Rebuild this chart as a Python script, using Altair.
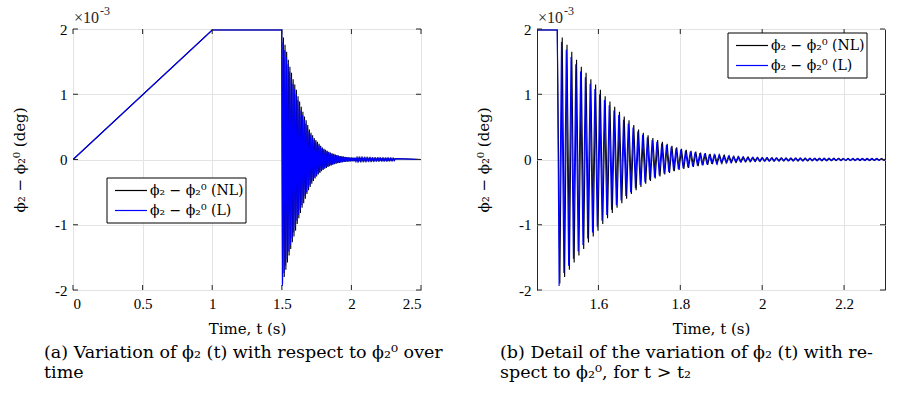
import altair as alt
import pandas as pd

# Values in units of 1e-3 deg.
# Quasi-static ramp up to t1, hold until t2.
ramp_t = [0.0, 1.0, 1.4995]
ramp_v = [0.0, 1.985, 1.985]

# Free vibration after t2: one extreme per half cycle.
t_first_trough = 1.504   # s
cycle = 0.01165          # s
nl_lag = 0.0018          # s, NL response lags the linear one slightly

nl_troughs = [
    -1.90, -1.80, -1.69, -1.58, -1.47, -1.37, -1.27, -1.18, -1.09, -0.99,
    -0.90, -0.82, -0.74, -0.67, -0.60, -0.53, -0.47, -0.42, -0.37, -0.33,
    -0.29, -0.26, -0.23, -0.205, -0.18, -0.16, -0.143, -0.128, -0.115, -0.102,
    -0.091, -0.081, -0.072, -0.064, -0.057, -0.051, -0.046, -0.041, -0.037, -0.034,
    -0.031, -0.029, -0.027, -0.026, -0.025, -0.024, -0.023, -0.022, -0.022, -0.021,
    -0.021, -0.020, -0.020, -0.019, -0.019, -0.018, -0.018, -0.018, -0.017, -0.017,
    -0.016, -0.016, -0.016, -0.015, -0.015, -0.015, -0.015, -0.014, -0.014, -0.014,
]
nl_peaks = [
    1.87, 1.76, 1.65, 1.53, 1.42, 1.33, 1.23, 1.15, 1.07, 0.97,
    0.89, 0.81, 0.73, 0.66, 0.60, 0.53, 0.46, 0.41, 0.37, 0.33,
    0.30, 0.27, 0.24, 0.21, 0.185, 0.165, 0.148, 0.133, 0.120, 0.107,
    0.096, 0.086, 0.077, 0.068, 0.060, 0.054, 0.048, 0.043, 0.039, 0.035,
    0.032, 0.030, 0.028, 0.027, 0.026, 0.025, 0.024, 0.023, 0.022, 0.022,
    0.021, 0.021, 0.020, 0.020, 0.019, 0.019, 0.018, 0.018, 0.018, 0.017,
    0.017, 0.016, 0.016, 0.016, 0.015, 0.015, 0.015, 0.015, 0.014, 0.014,
]
l_troughs = [
    -1.94, -1.74, -1.63, -1.52, -1.41, -1.31, -1.21, -1.12, -1.03, -0.94,
    -0.85, -0.77, -0.70, -0.63, -0.56, -0.50, -0.44, -0.39, -0.35, -0.31,
    -0.275, -0.245, -0.215, -0.19, -0.17, -0.15, -0.134, -0.12, -0.107, -0.095,
    -0.085, -0.076, -0.068, -0.060, -0.054, -0.048, -0.043, -0.039, -0.035, -0.032,
    -0.030, -0.028, -0.026, -0.025, -0.024, -0.023, -0.022, -0.022, -0.021, -0.021,
    -0.020, -0.020, -0.019, -0.019, -0.018, -0.018, -0.018, -0.017, -0.017, -0.016,
    -0.016, -0.016, -0.015, -0.015, -0.015, -0.015, -0.014, -0.014, -0.014, -0.014,
]
l_peaks = [
    1.80, 1.68, 1.57, 1.46, 1.35, 1.26, 1.16, 1.08, 1.00, 0.91,
    0.83, 0.75, 0.68, 0.61, 0.55, 0.49, 0.43, 0.38, 0.34, 0.30,
    0.27, 0.245, 0.22, 0.195, 0.172, 0.153, 0.137, 0.123, 0.111, 0.099,
    0.089, 0.080, 0.071, 0.063, 0.056, 0.050, 0.045, 0.040, 0.036, 0.033,
    0.031, 0.029, 0.027, 0.026, 0.025, 0.024, 0.023, 0.022, 0.022, 0.021,
    0.021, 0.020, 0.020, 0.019, 0.019, 0.018, 0.018, 0.018, 0.017, 0.017,
    0.016, 0.016, 0.016, 0.015, 0.015, 0.015, 0.015, 0.014, 0.014, 0.014,
]
t_end, v_end = 2.5, 0.0

NL = "ϕ₂ − ϕ₂⁰ (NL)"
LIN = "ϕ₂ − ϕ₂⁰ (L)"
Y_TITLE = "ϕ₂ − ϕ₂⁰ (deg)"
X_TITLE = "Time, t (s)"

ticks_y = [-2, -1, 0, 1, 2]
ticks_a = [0, 0.5, 1, 1.5, 2, 2.5]
ticks_b = [1.6, 1.8, 2.0, 2.2]

TICK_FONT = "Liberation Serif"
TEXT_FONT = "DejaVu Serif"
W, H = 348, 261
TICK = 5
BLACK, BLUE = "#000000", "#0000ff"


def series_rows(name, troughs, peaks, lag):
    rows = [(name, t, v) for t, v in zip(ramp_t, ramp_v)]
    for k, (lo, hi) in enumerate(zip(troughs, peaks)):
        rows.append((name, t_first_trough + lag + k * cycle, lo))
        rows.append((name, t_first_trough + lag + (k + 0.5) * cycle, hi))
    rows.append((name, t_end, v_end))
    return rows


df = pd.DataFrame(
    series_rows(NL, nl_troughs, nl_peaks, nl_lag)
    + series_rows(LIN, l_troughs, l_peaks, 0.0),
    columns=["series", "t", "v"],
)


def legend_box(x0, y0):
    """Boxed legend with its top-left corner at (x0, y0) in plot pixels."""
    one = alt.Chart(alt.Data(values=[{}]))
    box = one.mark_rect(fill="#ffffff", stroke="#000000", strokeWidth=1).encode(
        x=alt.value(x0), x2=alt.value(x0 + 139), y=alt.value(y0), y2=alt.value(y0 + 45)
    )
    parts = [box]
    for i, (name, col) in enumerate([(NL, BLACK), (LIN, BLUE)]):
        yy = y0 + 12.5 + 20 * i
        parts.append(one.mark_rule(color=col, strokeWidth=1.2).encode(
            x=alt.value(x0 + 8), x2=alt.value(x0 + 40), y=alt.value(yy)))
        parts.append(one.mark_text(
            align="left", baseline="middle", font=TEXT_FONT, fontSize=14, color="#000000"
        ).encode(x=alt.value(x0 + 43), y=alt.value(yy), text=alt.value(name)))
    return parts


def panel(xdom, xticks, lx, ly, caption, cap_dx):
    x_enc = alt.X(
        "t:Q",
        scale=alt.Scale(domain=xdom, nice=False, zero=False),
        axis=alt.Axis(values=xticks, title=X_TITLE, format="~g"),
    )
    y_enc = alt.Y(
        "v:Q",
        scale=alt.Scale(domain=[-2, 2], nice=False, zero=False),
        axis=alt.Axis(values=ticks_y, title=Y_TITLE,
                      labelExpr="replace(format(datum.value, '~g'), '−', '-')"),
    )
    color = alt.Color(
        "series:N",
        scale=alt.Scale(domain=[NL, LIN], range=[BLACK, BLUE]),
        legend=None,
    )
    base = alt.Chart(df)
    nl_line = base.transform_filter(alt.datum.series == NL).mark_line(
        clip=True, strokeWidth=1.1
    ).encode(x=x_enc, y=y_enc, color=color)
    l_line = base.transform_filter(alt.datum.series == LIN).mark_line(
        clip=True, strokeWidth=1.1
    ).encode(x=x_enc, y=y_enc, color=color)

    # inward tick marks on all four sides of the box
    xt = alt.Chart(pd.DataFrame({"t": xticks}))
    yt = alt.Chart(pd.DataFrame({"v": ticks_y}))
    tick_style = dict(color="#262626", strokeWidth=1)
    bottom = xt.mark_rule(**tick_style).encode(x=x_enc, y=alt.value(H), y2=alt.value(H - TICK))
    top = xt.mark_rule(**tick_style).encode(x=x_enc, y=alt.value(0), y2=alt.value(TICK))
    left = yt.mark_rule(**tick_style).encode(y=y_enc, x=alt.value(0), x2=alt.value(TICK))
    right = yt.mark_rule(**tick_style).encode(y=y_enc, x=alt.value(W), x2=alt.value(W - TICK))

    one = alt.Chart(alt.Data(values=[{}]))
    exp_base = one.mark_text(
        align="left", baseline="alphabetic", font=TICK_FONT, fontSize=16, color="#262626"
    ).encode(x=alt.value(1), y=alt.value(-6), text=alt.value("×10"))
    exp_sup = one.mark_text(
        align="left", baseline="alphabetic", font=TICK_FONT, fontSize=12, color="#262626"
    ).encode(x=alt.value(27), y=alt.value(-14), text=alt.value("-3"))

    return alt.layer(
        nl_line, l_line, bottom, top, left, right, exp_base, exp_sup, *legend_box(lx, ly)
    ).properties(
        width=W,
        height=H,
        title=alt.TitleParams(
            text=caption, orient="bottom", anchor="start", frame="group", dx=cap_dx,
            font=TEXT_FONT, fontSize=17.5, fontWeight="normal", color="#000000",
            lineHeight=19.5, offset=8,
        ),
    )


left_panel = panel(
    [0, 2.5], ticks_a, 34, 149,
    ["(a) Variation of ϕ₂ (t) with respect to ϕ₂⁰ over", "time"], -29,
)
right_panel = panel(
    [1.45, 2.3], ticks_b, 191, 4,
    ["(b) Detail of the variation of ϕ₂ (t) with re-", "spect to ϕ₂⁰, for t > t₂"], -37,
)

chart = (
    alt.hconcat(left_panel, right_panel, spacing=32)
    .properties(padding={"left": 12, "top": 4, "right": 5, "bottom": 5}, background="white")
    .configure_view(stroke="#262626", strokeWidth=1)
    .configure_axis(
        grid=True, gridColor="#e3e3e3", gridWidth=1, domain=False, ticks=False,
        labelFont=TICK_FONT, labelFontSize=15, labelColor="#000000", labelPadding=6,
        titleFont=TEXT_FONT, titleFontSize=15, titleFontWeight="normal", titleColor="#000000",
    )
    .configure_axisX(titlePadding=10, labelPadding=6)
    .configure_axisY(titlePadding=27)
)

chart.save("out.html", embed_options={"renderer": "svg", "actions": False})
